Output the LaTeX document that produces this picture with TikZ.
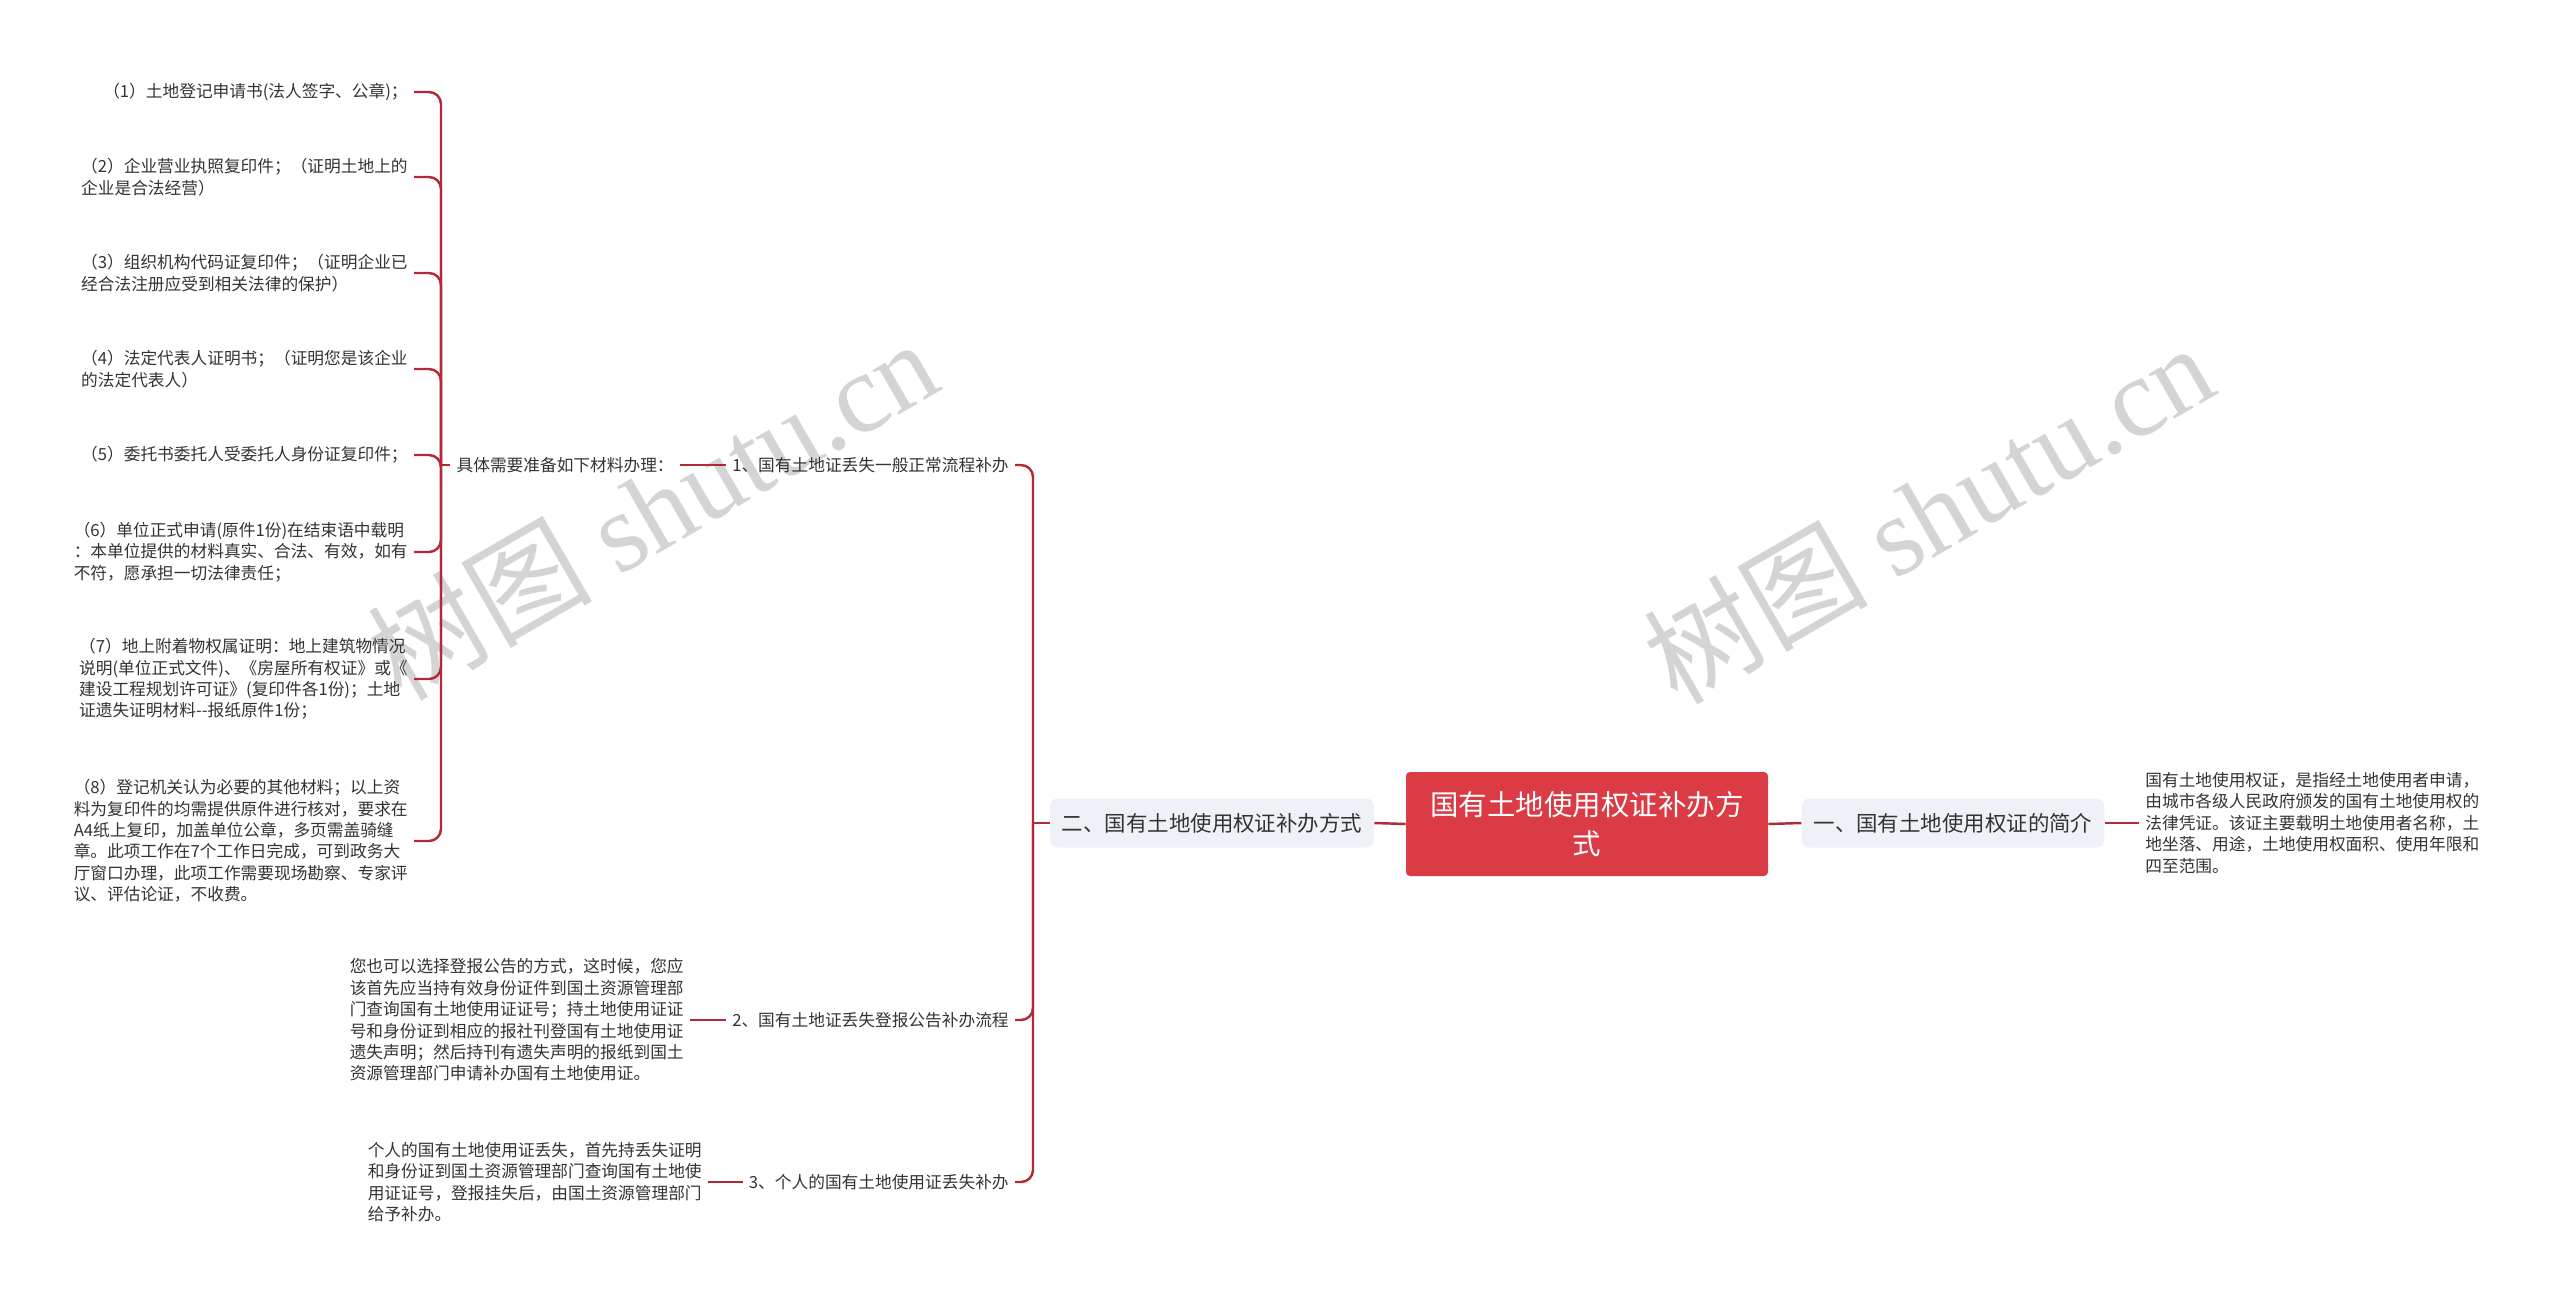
\documentclass[tikz,border=0pt]{standalone}
\usepackage{fontspec}
\setmainfont{Noto Sans CJK SC}
\newfontfamily\wmfont{Liberation Serif}
\usepackage{tikz}
\usetikzlibrary{positioning}
\definecolor{linkred}{HTML}{B22A35}
\definecolor{rootred}{HTML}{DA3B44}
\definecolor{topicgray}{HTML}{EEF1F5}
\definecolor{txt}{HTML}{333333}

\begin{document}
\begin{tikzpicture}[
    x=0.2mm, y=-0.2mm,
    rootbox/.style={rectangle, rounded corners=0.8mm, fill=rootred, text=white, minimum width=72.4mm, minimum height=20.8mm, align=center, font=\fontsize{16.2}{22.2}\selectfont},
    topic/.style={rectangle, rounded corners=1.6mm, fill=topicgray, text=txt, minimum height=9.8mm, inner xsep=2.4mm, font=\fontsize{12.2}{14}\selectfont},
    leaf/.style={inner xsep=1.2mm, inner ysep=0.6mm, text=txt, align=left, font=\fontsize{9.5}{12.2}\selectfont},
    link/.style={draw=linkred, line width=1.4pt, rounded corners=2.4mm},
    wmark/.style={text=black!17, font=\fontsize{64}{70}\selectfont, rotate=30},
]
    \useasboundingbox (0,0) rectangle (2560,1306);
    \fill[white] (0,0) rectangle (2560,1306);
    % Watermarks
    \node[wmark] (w1) at (652,508) {树图 {\wmfont shutu.cn}};
    \node[wmark] (w2) at (1928,512) {树图 {\wmfont shutu.cn}};
    % Root and topics
    \node[rootbox] (root) at (1587,824) {国有土地使用权证补办方\\式};
    \node[topic] (t1) at (1953,823) {一、国有土地使用权证的简介};
    \node[topic] (t2) at (1212,823) {二、国有土地使用权证补办方式};
    % Right side
    \node[leaf, anchor=west] (r1) at (2139,823) {国有土地使用权证，是指经土地使用者申请，\\由城市各级人民政府颁发的国有土地使用权的\\法律凭证。该证主要载明土地使用者名称，土\\地坐落、用途，土地使用权面积、使用年限和\\四至范围。};
    % Left side, second level
    \node[leaf, anchor=east] (s1) at (1015,465) {1、国有土地证丢失一般正常流程补办};
    \node[leaf, anchor=east] (s2) at (1015,1020) {2、国有土地证丢失登报公告补办流程};
    \node[leaf, anchor=east] (s3) at (1015,1182) {3、个人的国有土地使用证丢失补办};
    \node[leaf, anchor=east] (d1) at (680,465) {具体需要准备如下材料办理：};
    \node[leaf, anchor=east] (d2) at (690,1020) {您也可以选择登报公告的方式，这时候，您应\\该首先应当持有效身份证件到国土资源管理部\\门查询国有土地使用证证号；持土地使用证证\\号和身份证到相应的报社刊登国有土地使用证\\遗失声明；然后持刊有遗失声明的报纸到国土\\资源管理部门申请补办国有土地使用证。};
    \node[leaf, anchor=east] (d3) at (708,1182) {个人的国有土地使用证丢失，首先持丢失证明\\和身份证到国土资源管理部门查询国有土地使\\用证证号，登报挂失后，由国土资源管理部门\\给予补办。};
    % Materials
    \node[leaf, anchor=east] (m1) at (414,92) {（1）土地登记申请书(法人签字、公章)；};
    \node[leaf, anchor=east] (m2) at (414,177) {（2）企业营业执照复印件；（证明土地上的\\企业是合法经营）};
    \node[leaf, anchor=east] (m3) at (414,273) {（3）组织机构代码证复印件；（证明企业已\\经合法注册应受到相关法律的保护）};
    \node[leaf, anchor=east] (m4) at (414,369) {（4）法定代表人证明书；（证明您是该企业\\的法定代表人）};
    \node[leaf, anchor=east] (m5) at (414,455) {（5）委托书委托人受委托人身份证复印件；};
    \node[leaf, anchor=east] (m6) at (414,552) {（6）单位正式申请(原件1份)在结束语中载明\\：本单位提供的材料真实、合法、有效，如有\\不符，愿承担一切法律责任；};
    \node[leaf, anchor=east] (m7) at (414,679) {（7）地上附着物权属证明：地上建筑物情况\\说明(单位正式文件)、《房屋所有权证》或《\\建设工程规划许可证》(复印件各1份)；土地\\证遗失证明材料-{}-报纸原件1份；};
    \node[leaf, anchor=east] (m8) at (414,841) {（8）登记机关认为必要的其他材料；以上资\\料为复印件的均需提供原件进行核对，要求在\\A4纸上复印，加盖单位公章，多页需盖骑缝\\章。此项工作在7个工作日完成，可到政务大\\厅窗口办理，此项工作需要现场勘察、专家评\\议、评估论证，不收费。};
    % Connectors
    \draw[link] (root.east) -- (t1.west);
    \draw[link] (t1.east) -- (r1.west);
    \draw[link] (root.west) -- (t2.east);
    \coordinate (b0) at (1033,823);
    \draw[link] (t2.west) -- (b0);
    \foreach \i in {1,2,3} { \draw[link] (b0) |- (s\i.east); }
    \draw[link] (s1.west) -- (d1.east);
    \draw[link] (s2.west) -- (d2.east);
    \draw[link] (s3.west) -- (d3.east);
    \coordinate (b1) at (441,465);
    \draw[link] (d1.west) -- (b1);
    \foreach \i in {1,...,8} { \draw[link] (b1) |- (m\i.east); }
\end{tikzpicture}
\end{document}
